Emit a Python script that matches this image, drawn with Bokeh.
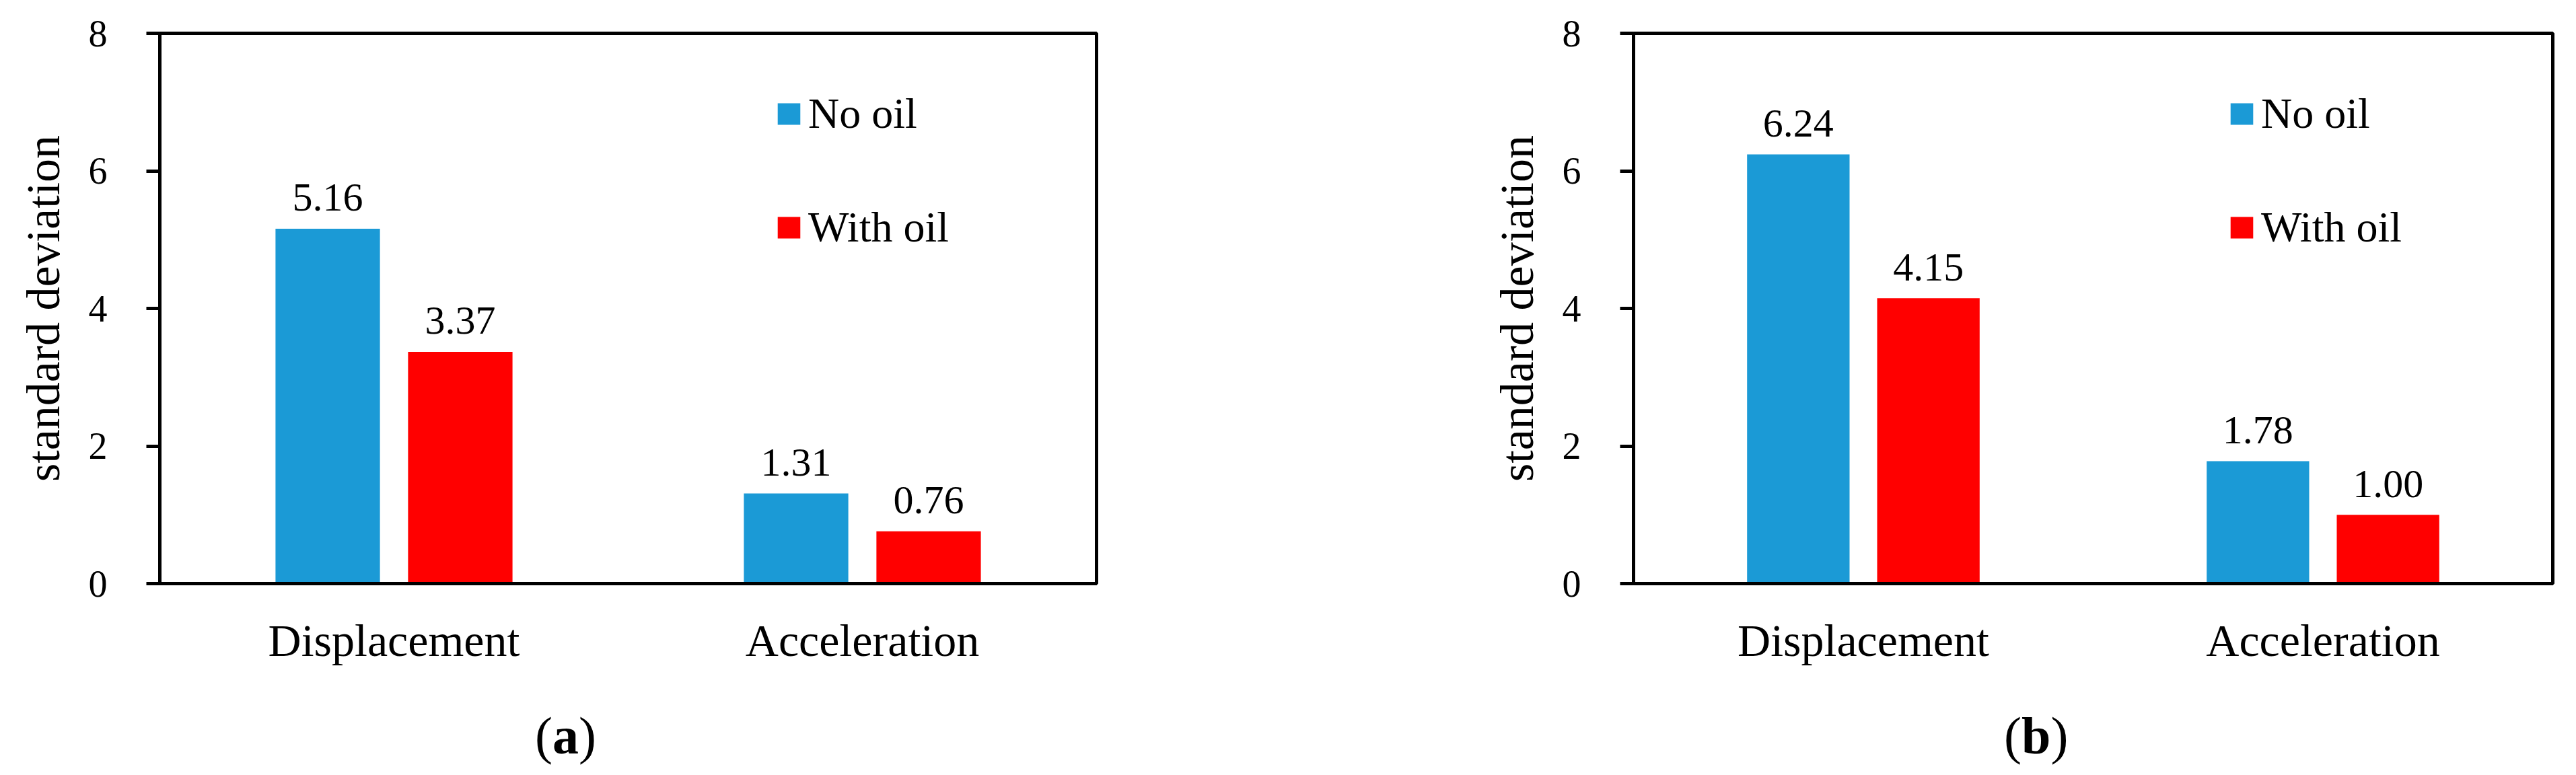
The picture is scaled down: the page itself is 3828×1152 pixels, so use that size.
from bokeh.plotting import figure
from bokeh.models import (ColumnDataSource, Range1d, FactorRange, Legend, LegendItem,
                          FixedTicker, Div)
from bokeh.transform import dodge
from bokeh.layouts import row, column
from bokeh.core.properties import value
from bokeh.embed import file_html
from bokeh.resources import INLINE

categories = ["Displacement", "Acceleration"]
no_oil_a = [5.16, 1.31]
with_oil_a = [3.37, 0.76]
no_oil_b = [6.24, 1.78]
with_oil_b = [4.15, 1.00]
series_names = ["No oil", "With oil"]
y_ticks = [0, 2, 4, 6, 8]
panel_letters = ["a", "b"]

BLUE = "#1B9AD6"
RED = "#FF0000"
FONT = "Liberation Serif"
FIG_H = 1050


def make_panel(no_oil, with_oil, width, border_left, border_right, leg_x):
    src = ColumnDataSource(dict(
        cat=categories,
        no=no_oil, wo=with_oil,
        no_txt=["%.2f" % v for v in no_oil],
        wo_txt=["%.2f" % v for v in with_oil],
    ))
    p = figure(x_range=FactorRange(*categories, range_padding=0), y_range=Range1d(0, 8),
               width=width, height=FIG_H, output_backend="svg", toolbar_location=None,
               min_border_left=border_left, min_border_right=border_right,
               min_border_top=49, min_border_bottom=FIG_H - 49 - 818)
    p.xgrid.visible = False
    p.ygrid.visible = False
    p.background_fill_color = "white"
    p.border_fill_color = "white"
    p.outline_line_color = "black"
    p.outline_line_width = 5

    off = 0.1415
    bw = 0.223
    r1 = p.vbar(x=dodge("cat", -off, range=p.x_range), top="no", width=bw, source=src,
                fill_color=BLUE, line_color=None)
    r2 = p.vbar(x=dodge("cat", off, range=p.x_range), top="wo", width=bw, source=src,
                fill_color=RED, line_color=None)
    for fld, tf, dx in (("no", "no_txt", -off), ("wo", "wo_txt", off)):
        p.text(x=dodge("cat", dx, range=p.x_range), y=fld, text=tf, source=src,
               text_font=value(FONT), text_font_size="60px", text_align="center",
               text_baseline="alphabetic", y_offset=-46, text_color="black")

    # y axis
    ya = p.yaxis[0]
    ya.ticker = FixedTicker(ticks=y_ticks)
    ya.axis_label = "standard deviation"
    ya.axis_label_text_font = FONT
    ya.axis_label_text_font_style = "normal"
    ya.axis_label_text_font_size = "70px"
    ya.axis_label_text_color = "black"
    ya.axis_label_standoff = 26
    ya.major_label_text_font = FONT
    ya.major_label_text_font_size = "56px"
    ya.major_label_text_color = "black"
    ya.major_label_standoff = 58
    ya.major_tick_out = 20
    ya.major_tick_in = 0
    ya.minor_tick_out = 0
    ya.minor_tick_in = 0
    ya.major_tick_line_width = 5
    ya.major_tick_line_color = "black"
    ya.axis_line_width = 5
    ya.axis_line_color = "black"

    xa = p.xaxis[0]
    xa.major_label_text_font = FONT
    xa.major_label_text_font_size = "68px"
    xa.major_label_text_color = "black"
    xa.major_label_standoff = 46
    xa.major_tick_out = 0
    xa.major_tick_in = 0
    xa.axis_line_width = 5
    xa.axis_line_color = "black"

    legend = Legend(items=[LegendItem(label=series_names[0], renderers=[r1]),
                           LegendItem(label=series_names[1], renderers=[r2])],
                    location=(leg_x, 492), orientation="vertical",
                    glyph_width=42, glyph_height=40, label_standoff=8, spacing=95,
                    label_height=74, padding=0, margin=0,
                    border_line_alpha=0, background_fill_alpha=0,
                    label_text_font=FONT, label_text_font_size="64px",
                    label_text_color="black")
    p.add_layout(legend, "center")
    return p


def make_caption(letter, width, pad_left):
    html = ('<div style="position:relative; top:5px; padding-left:%dpx; '
            'font-family:\'Liberation Serif\'; font-size:78px; line-height:78px; '
            'color:black; white-space:nowrap;">(<b>%s</b>)</div>') % (pad_left, letter)
    return Div(text=html, width=width, height=1136 - FIG_H, margin=0)


pa = make_panel(no_oil_a, with_oil_a, 1892, 237, 263, 914)
pb = make_panel(no_oil_b, with_oil_b, 1920, 535, 19, 883)
ca = make_caption(panel_letters[0], 1892, 795)
cb = make_caption(panel_letters[1], 1920, 1086)

layout = column(row(pa, pb, spacing=0), row(ca, cb, spacing=0), spacing=0)
open("out.html", "w").write(file_html(layout, INLINE))
